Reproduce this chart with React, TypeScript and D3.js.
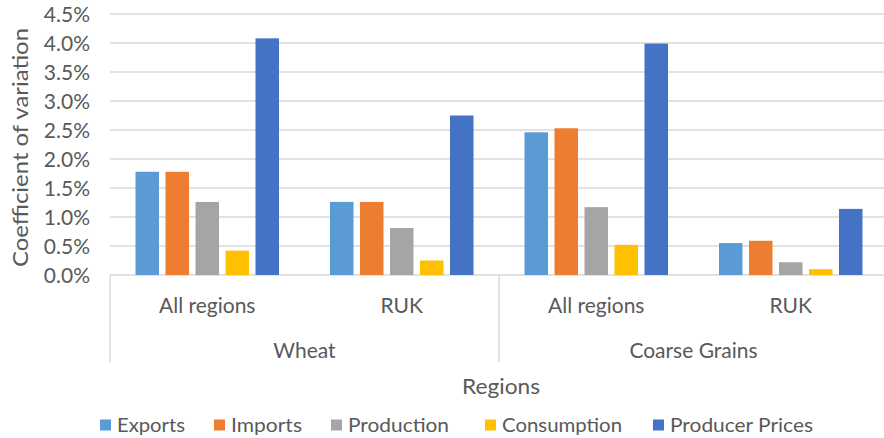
import React from "react";
import * as d3 from "d3";

const commodities = ["Wheat", "Coarse Grains"];
const regions = ["All regions", "RUK"];
const seriesNames = ["Exports", "Imports", "Production", "Consumption", "Producer Prices"];
const seriesColors = ["#5B9BD5", "#ED7D31", "#A5A5A5", "#FFC000", "#4472C4"];
// values per series, in order: Wheat/All regions, Wheat/RUK, Coarse Grains/All regions, Coarse Grains/RUK
const exportsVals = [0.0178, 0.0126, 0.0246, 0.0055];
const importsVals = [0.0178, 0.0126, 0.0253, 0.0059];
const productionVals = [0.0126, 0.0081, 0.0117, 0.0022];
const consumptionVals = [0.0042, 0.0025, 0.0052, 0.0010];
const producerPricesVals = [0.0408, 0.0275, 0.0399, 0.0114];
const yTicks = [0, 0.005, 0.01, 0.015, 0.02, 0.025, 0.03, 0.035, 0.04, 0.045];

const W = 884;
const H = 438;
const FONT = "Lato, 'Open Sans', sans-serif";
const TEXT = "#595959";
const GRID = "#d9d9d9";

export default function App() {
  const allVals = [exportsVals, importsVals, productionVals, consumptionVals, producerPricesVals];
  const groups = commodities.flatMap((c) => regions.map((r) => ({ c, r, key: c + "|" + r })));
  const left = 110;
  const right = 888;
  const top = 14;
  const bottom = 275;
  const x0 = d3.scaleBand().domain(groups.map((g) => g.key)).range([left, right]).padding(0);
  const x1 = d3.scaleBand().domain(seriesNames).range([0, x0.bandwidth()]).paddingInner(0.2167).paddingOuter(0.85);
  const xc = d3.scaleBand().domain(commodities).range([left, right]).padding(0);
  const y = d3.scaleLinear().domain([0, 0.045]).range([bottom, top]);
  const fmt = d3.format(".1%");
  const legendX = [100, 214, 331, 485, 653];
  const legendW = [68, 71, 101, 120, 143];

  return (
    <svg width={W} height={H} style={{ display: "block", position: "absolute", left: 0, top: 0, background: "#fff" }} fontFamily={FONT}>
      {yTicks.map((t) => (
        <g key={t}>
          <line x1={left} x2={W} y1={y(t)} y2={y(t)} stroke={GRID} strokeWidth={1.5} />
          <text x={90} y={y(t)} dy="0.36em" textAnchor="end" fontSize={21} fill={TEXT}>
            {fmt(t)}
          </text>
        </g>
      ))}
      {[left, xc(commodities[1]) as number, right].map((xv, i) => (
        <line key={i} x1={xv} x2={xv} y1={bottom} y2={362} stroke={GRID} strokeWidth={1.5} />
      ))}
      {groups.map((g, gi) => (
        <g key={g.key} transform={`translate(${x0(g.key)},0)`}>
          {seriesNames.map((s, si) => {
            const v = allVals[si][gi];
            return (
              <rect
                key={s}
                x={x1(s)}
                y={y(v)}
                width={x1.bandwidth()}
                height={bottom - y(v)}
                fill={seriesColors[si]}
              />
            );
          })}
          <text x={x0.bandwidth() / 2} y={305} dy="0.36em" textAnchor="middle" fontSize={21} fill={TEXT}>
            {g.r}
          </text>
        </g>
      ))}
      {commodities.map((c) => (
        <text key={c} x={(xc(c) as number) + xc.bandwidth() / 2} y={350} dy="0.36em" textAnchor="middle" fontSize={21} fill={TEXT}>
          {c}
        </text>
      ))}
      <text x={501} y={386} dy="0.36em" textAnchor="middle" fontSize={22} fill={TEXT} textLength={78} lengthAdjust="spacingAndGlyphs">
        Regions
      </text>
      <text
        transform={`translate(20,${(28 + 267) / 2}) rotate(-90)`}
        dy="0.36em"
        textAnchor="middle"
        fontSize={22}
        fill={TEXT}
        textLength={239}
        lengthAdjust="spacingAndGlyphs"
      >
        Coefficient of variation
      </text>
      {seriesNames.map((s, i) => (
        <g key={s} transform={`translate(${legendX[i]},425)`}>
          <rect x={0} y={-5.5} width={11} height={11} fill={seriesColors[i]} />
          <text x={17} y={0} dy="0.36em" fontSize={20} fill={TEXT} textLength={legendW[i]} lengthAdjust="spacingAndGlyphs">
            {s}
          </text>
        </g>
      ))}
    </svg>
  );
}
